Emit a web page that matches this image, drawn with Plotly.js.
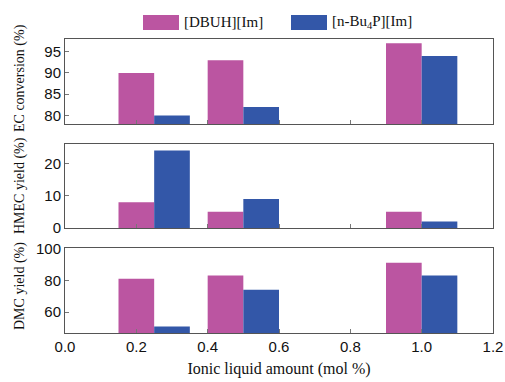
<!DOCTYPE html>
<html>
<head>
<meta charset="utf-8">
<script src="https://cdn.plot.ly/plotly-3.0.1.min.js"></script>
<style>html,body{margin:0;padding:0;background:#fff;}#chart{width:505px;height:382px;}</style>
</head>
<body>
<div id="chart"></div>
<script>
const amounts = [0.25, 0.5, 1.0];
const seriesNames = ['[DBUH][Im]', '[n-Bu<sub>4</sub>P][Im]'];
const ecConversion = { dbuh: [90, 93, 97], bu4p: [80, 82, 94] };
const hmecYield = { dbuh: [8, 5, 5], bu4p: [24, 9, 2] };
const dmcYield = { dbuh: [81, 83, 91], bu4p: [51, 74, 83] };
const xTicks = [0.0, 0.2, 0.4, 0.6, 0.8, 1.0, 1.2];
const yTitles = ['EC conversion (%)', 'HMEC yield (%)', 'DMC yield (%)'];

const pink = '#bb55a1';
const blue = '#3357a8';

function pair(vals, xa, ya) {
  return [
    { type: 'bar', x: amounts, y: vals.dbuh, width: 0.1, offset: -0.1, xaxis: xa, yaxis: ya,
      marker: { color: pink }, name: seriesNames[0], showlegend: false },
    { type: 'bar', x: amounts, y: vals.bu4p, width: 0.1, offset: 0, xaxis: xa, yaxis: ya,
      marker: { color: blue, line: { color: '#23408a', width: 0 } }, name: seriesNames[1], showlegend: false }
  ];
}

const data = [].concat(
  pair(ecConversion, 'x', 'y'),
  pair(hmecYield, 'x2', 'y2'),
  pair(dmcYield, 'x3', 'y3')
);

const tickFont = { family: 'Liberation Sans, Arial, sans-serif', size: 15, color: '#111' };
const serif = 'Liberation Serif, Times New Roman, serif';

function xax(anchor, showLabels) {
  return {
    anchor: anchor, range: [0, 1.2], tickvals: xTicks, tickformat: '.1f',
    showticklabels: showLabels, ticks: 'inside', ticklen: 4, tickcolor: '#777',
    showline: true, mirror: true, linecolor: '#555', linewidth: 1, showgrid: false, zeroline: false,
    tickfont: tickFont
  };
}
function yax(anchor, domain, range, tickvals) {
  return {
    anchor: anchor, domain: domain, range: range, tickvals: tickvals,
    ticks: 'inside', ticklen: 4, tickcolor: '#777',
    showline: true, mirror: true, linecolor: '#555', linewidth: 1, showgrid: false, zeroline: false,
    tickfont: tickFont
  };
}

const L = 65, W = 428, B = 333, H = 294;
const px = v => (v - L) / W;
const py = v => (B - v) / H;

const layout = {
  width: 505, height: 382,
  margin: { l: 65, r: 12, t: 39, b: 49 },
  paper_bgcolor: '#fff', plot_bgcolor: '#fff',
  barmode: 'overlay', showlegend: false,
  xaxis: xax('y', false),
  xaxis2: xax('y2', false),
  xaxis3: Object.assign(xax('y3', true), {
    title: { text: 'Ionic liquid amount (mol %)', font: { family: serif, size: 16, color: '#111' }, standoff: 8 }
  }),
  yaxis: yax('x', [0.711, 1], [78, 98], [80, 85, 90, 95]),
  yaxis2: yax('x2', [0.357, 0.643], [0, 26], [0, 10, 20]),
  yaxis3: yax('x3', [0, 0.289], [47, 100.2], [60, 80, 100]),
  shapes: [
    { type: 'rect', xref: 'paper', yref: 'paper', x0: px(143), x1: px(179), y0: py(30), y1: py(15), fillcolor: pink, line: { width: 0 } },
    { type: 'rect', xref: 'paper', yref: 'paper', x0: px(291), x1: px(327), y0: py(30), y1: py(15), fillcolor: blue, line: { width: 0 } }
  ],
  annotations: [
    { xref: 'paper', yref: 'paper', x: px(182), y: py(22), xanchor: 'left', yanchor: 'middle', showarrow: false,
      text: seriesNames[0], font: { family: serif, size: 15, color: '#111' } },
    { xref: 'paper', yref: 'paper', x: px(330), y: py(22), xanchor: 'left', yanchor: 'middle', showarrow: false,
      text: seriesNames[1], font: { family: serif, size: 15, color: '#111' } },
    { xref: 'paper', yref: 'paper', x: px(20), y: py(78), xanchor: 'center', yanchor: 'middle', showarrow: false, textangle: -90,
      text: yTitles[0], font: { family: serif, size: 14, color: '#111' } },
    { xref: 'paper', yref: 'paper', x: px(20), y: py(186), xanchor: 'center', yanchor: 'middle', showarrow: false, textangle: -90,
      text: yTitles[1], font: { family: serif, size: 14, color: '#111' } },
    { xref: 'paper', yref: 'paper', x: px(20), y: py(286), xanchor: 'center', yanchor: 'middle', showarrow: false, textangle: -90,
      text: yTitles[2], font: { family: serif, size: 14, color: '#111' } }
  ]
};

Plotly.newPlot('chart', data, layout, { displayModeBar: false, staticPlot: true });
</script>
</body>
</html>
